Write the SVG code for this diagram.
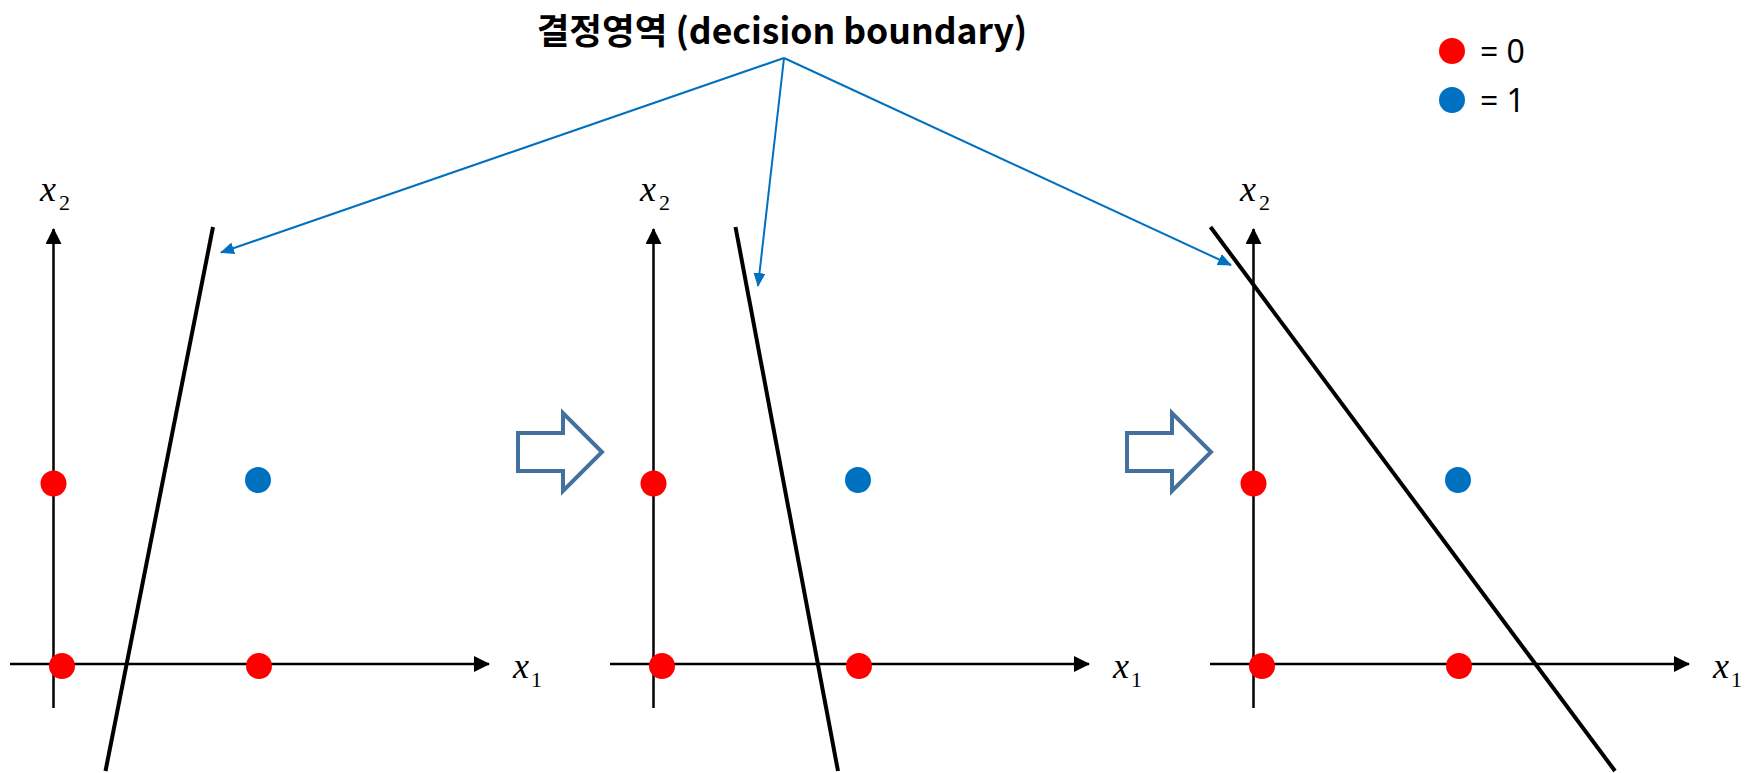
<svg xmlns="http://www.w3.org/2000/svg" width="1761" height="773" viewBox="0 0 1761 773">
<style>
.axis{stroke:#000;stroke-width:2.5;fill:none}
.bound{stroke:#000;stroke-width:4;fill:none}
.conn{stroke:#0070C0;stroke-width:2;fill:none}
.red{fill:#FF0000}
.blue{fill:#0070C0}
.hollow{fill:#fff;stroke:#41719C;stroke-width:4;stroke-linejoin:miter}
.math{font-family:"Liberation Serif","DejaVu Serif",serif;font-style:italic;fill:#000}
.sub{font-family:"Liberation Serif","DejaVu Serif",serif;font-style:normal;fill:#000}
.title{font-family:"Noto Sans CJK KR","Noto Sans",sans-serif;font-weight:bold;font-size:35.5px;fill:#000}
.leg{font-family:"Noto Sans","Liberation Sans",sans-serif;font-size:32px;fill:#000}
</style>
<defs>
<marker id="ah" markerWidth="16" markerHeight="16" viewBox="0 0 16 16" refX="15" refY="8" orient="auto" markerUnits="userSpaceOnUse">
<path d="M0,0 L16,8 L0,16 Z" fill="#000"/>
</marker>
<marker id="bh" markerWidth="14" markerHeight="12" viewBox="0 0 14 12" refX="13" refY="6" orient="auto" markerUnits="userSpaceOnUse">
<path d="M0,0 L14,6 L0,12 Z" fill="#0070C0"/>
</marker>
<g id="panel">
<line class="axis" x1="53.5" y1="708" x2="53.5" y2="229" marker-end="url(#ah)"/>
<line class="axis" x1="10" y1="664" x2="489" y2="664" marker-end="url(#ah)"/>
<circle class="red" cx="53.5" cy="483.5" r="13"/>
<circle class="red" cx="62" cy="666" r="13"/>
<circle class="red" cx="259" cy="666" r="13"/>
<circle class="blue" cx="258" cy="480" r="13"/>
<text class="math" x="40" y="201" font-size="36">x</text>
<text class="sub" x="59" y="210" font-size="22">2</text>
<text class="math" x="513" y="678" font-size="36">x</text>
<text class="sub" x="531" y="687" font-size="22">1</text>
</g>
</defs>

<g id="title">
<text class="title" x="782" y="44" text-anchor="middle">결정영역 (decision boundary)</text>
</g>

<g id="legend">
<circle class="red" cx="1452" cy="51" r="13"/>
<text class="leg" x="1480" y="63">= 0</text>
<circle class="blue" cx="1452" cy="100" r="13"/>
<text class="leg" x="1480" y="112">= 1</text>
</g>

<g id="panel1">
<use href="#panel"/>
<line class="bound" x1="213" y1="227" x2="105.5" y2="771"/>
</g>
<g id="panel2">
<use href="#panel" x="600"/>
<line class="bound" x1="735.5" y1="227" x2="838" y2="771"/>
</g>
<g id="panel3">
<use href="#panel" x="1200"/>
<line class="bound" x1="1210.5" y1="227" x2="1615" y2="771"/>
</g>

<g id="step1">
<path class="hollow" d="M518,433 L563,433 L563,413 L602,452 L563,491 L563,471 L518,471 Z"/>
</g>
<g id="step2">
<path class="hollow" d="M1127,433 L1172,433 L1172,413 L1211,452 L1172,491 L1172,471 L1127,471 Z"/>
</g>

<g id="connectors">
<line class="conn" x1="784" y1="58" x2="221" y2="252.5" marker-end="url(#bh)"/>
<line class="conn" x1="784" y1="58" x2="758" y2="286" marker-end="url(#bh)"/>
<line class="conn" x1="784" y1="58" x2="1231" y2="265" marker-end="url(#bh)"/>
</g>
</svg>
